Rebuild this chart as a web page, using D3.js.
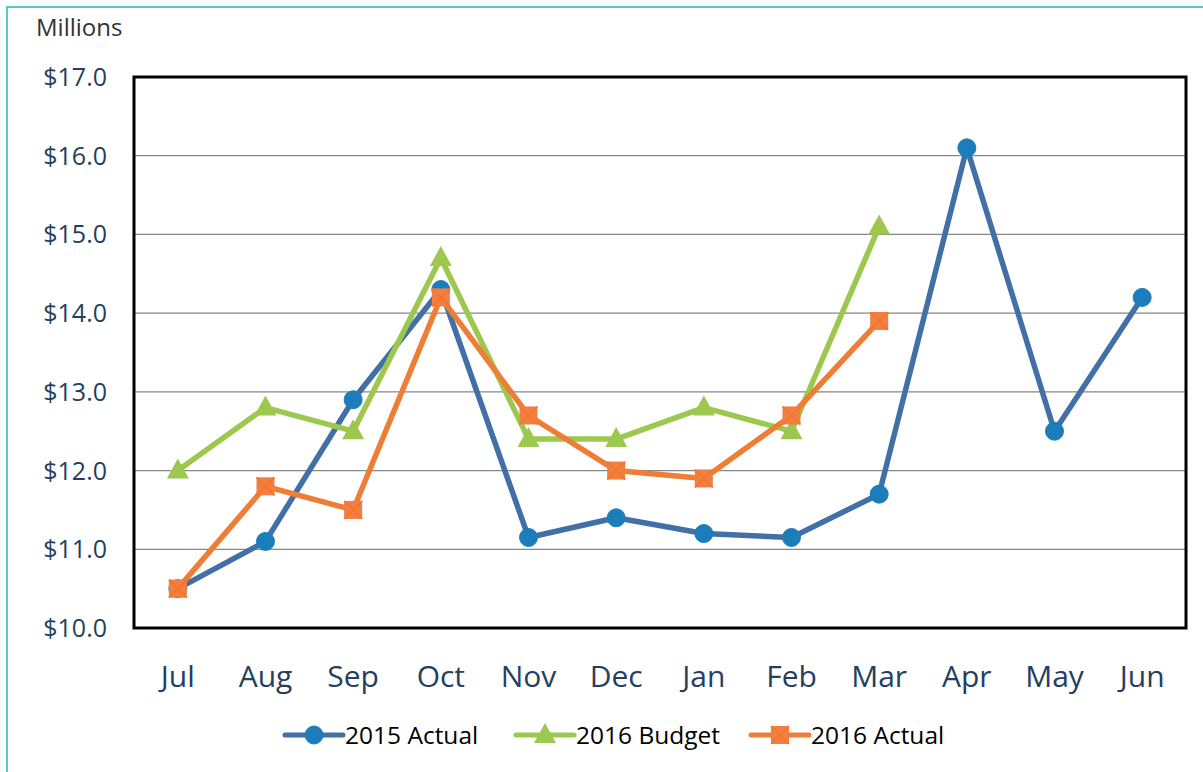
<!DOCTYPE html>
<html>
<head>
<meta charset="utf-8">
<script src="https://cdn.jsdelivr.net/npm/d3@7"></script>
<style>
  html, body { margin: 0; padding: 0; background: #fff; }
  text { font-family: "Open Sans", "Noto Sans", sans-serif; }
</style>
</head>
<body>
<div id="chart"></div>
<script>
const months = ['Jul', 'Aug', 'Sep', 'Oct', 'Nov', 'Dec', 'Jan', 'Feb', 'Mar', 'Apr', 'May', 'Jun'];
const actual2015 = [10.5, 11.1, 12.9, 14.3, 11.15, 11.4, 11.2, 11.15, 11.7, 16.1, 12.5, 14.2];
const budget2016 = [12.0, 12.8, 12.5, 14.7, 12.4, 12.4, 12.8, 12.5, 15.1];
const actual2016 = [10.5, 11.8, 11.5, 14.2, 12.7, 12.0, 11.9, 12.7, 13.9];
const yTicks = [10, 11, 12, 13, 14, 15, 16, 17];

const width = 1203, height = 772;
const margin = { top: 77, right: 17, bottom: 144, left: 134 };

const svg = d3.select('#chart').append('svg')
  .attr('width', width)
  .attr('height', height);

// outer frame (only top/left visible in the crop)
svg.append('rect')
  .attr('x', 7).attr('y', 7)
  .attr('width', width + 20).attr('height', height + 20)
  .attr('fill', 'none')
  .attr('stroke', '#5cc3d2')
  .attr('stroke-width', 2);

const x = d3.scalePoint()
  .domain(months)
  .range([margin.left, width - margin.right])
  .padding(0.5);

const y = d3.scaleLinear()
  .domain([10, 17])
  .range([height - margin.bottom, margin.top]);

// gridlines
svg.append('g')
  .selectAll('line')
  .data(yTicks.slice(1, -1))
  .join('line')
  .attr('x1', margin.left).attr('x2', width - margin.right)
  .attr('y1', d => y(d)).attr('y2', d => y(d))
  .attr('stroke', '#868686')
  .attr('stroke-width', 1.3);

// y tick labels
svg.append('g')
  .selectAll('text')
  .data(yTicks)
  .join('text')
  .attr('x', 107)
  .attr('y', d => y(d))
  .attr('dy', '0.36em')
  .attr('text-anchor', 'end')
  .attr('fill', '#243f60')
  .style('font-size', '25px')
  .text(d => '$' + d3.format('.1f')(d));

// x tick labels
svg.append('g')
  .selectAll('text')
  .data(months)
  .join('text')
  .attr('x', d => x(d))
  .attr('y', 676)
  .attr('dy', '0.36em')
  .attr('text-anchor', 'middle')
  .attr('fill', '#243f60')
  .style('font-size', '30px')
  .text(d => d);

svg.append('text')
  .attr('x', 36).attr('y', 27)
  .attr('dy', '0.36em')
  .attr('fill', '#333')
  .style('font-size', '24px')
  .text('Millions');

const series = [
  { name: '2015 Actual', values: actual2015, line: '#4270a6', fill: '#1b7dba', marker: 'circle' },
  { name: '2016 Budget', values: budget2016, line: '#9dc84f', fill: '#9dc84f', marker: 'triangle' },
  { name: '2016 Actual', values: actual2016, line: '#ee7d36', fill: '#ef7f45', marker: 'square' }
];

const lineGen = d3.line()
  .x((d, i) => x(months[i]))
  .y(d => y(d));

function drawMarker(g, type, s) {
  if (type === 'circle') {
    g.append('circle').attr('r', 9).attr('fill', s.fill).attr('stroke', s.fill);
  } else if (type === 'triangle') {
    g.append('path')
      .attr('d', 'M0,-12 L11,8 L-11,8 Z')
      .attr('fill', s.fill);
  } else {
    g.append('rect')
      .attr('x', -9).attr('y', -9).attr('width', 18).attr('height', 18)
      .attr('fill', s.fill);
    g.append('path')
      .attr('d', 'M-9,-9 L9,9 M9,-9 L-9,9')
      .attr('stroke', '#f9741f')
      .attr('stroke-width', 1.6);
  }
}

series.forEach(s => {
  const g = svg.append('g');
  g.append('path')
    .datum(s.values)
    .attr('d', lineGen)
    .attr('fill', 'none')
    .attr('stroke', s.line)
    .attr('stroke-width', 5.5)
    .attr('stroke-linejoin', 'round');
  s.values.forEach((v, i) => {
    const m = g.append('g').attr('transform', `translate(${x(months[i])},${y(v)})`);
    drawMarker(m, s.marker, s);
  });
});

// plot frame
svg.append('rect')
  .attr('x', margin.left).attr('y', margin.top)
  .attr('width', width - margin.right - margin.left)
  .attr('height', height - margin.bottom - margin.top)
  .attr('fill', 'none')
  .attr('stroke', '#000')
  .attr('stroke-width', 3);

// legend
const legendX = [285, 516, 751];
series.forEach((s, i) => {
  const lg = svg.append('g').attr('transform', `translate(${legendX[i]},735)`);
  lg.append('line')
    .attr('x1', 0).attr('x2', 58)
    .attr('stroke', s.line)
    .attr('stroke-width', 5)
    .attr('stroke-linecap', 'round');
  const m = lg.append('g').attr('transform', 'translate(29,0)');
  drawMarker(m, s.marker, s);
  lg.append('text')
    .attr('x', 60)
    .attr('dy', '0.36em')
    .attr('fill', '#000')
    .style('font-size', '24.5px')
    .text(s.name);
});
</script>
</body>
</html>
